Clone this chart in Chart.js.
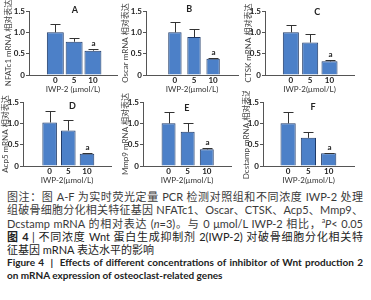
<!DOCTYPE html>
<html>
<head>
<meta charset="utf-8">
<script src="https://cdn.jsdelivr.net/npm/chart.js@4.4.1/dist/chart.umd.min.js"></script>
<style>
  body { margin: 0; background: #fff; width: 371px; height: 300px; overflow: hidden; position: relative;
         font-family: Lato, "Noto Sans CJK SC", sans-serif; }
  canvas { position: absolute; }
  .cap { position: absolute; left: 7px; width: 356px; font-size: 11px; line-height: 13px; color: #3a3a3a; }
  .full { text-align: justify; text-align-last: justify; }
  .en { font-size: 10px; font-weight: bold; color: #222; }
</style>
</head>
<body>
<canvas id="pA" width="122" height="95"></canvas>
<canvas id="pB" width="125" height="95"></canvas>
<canvas id="pC" width="130" height="95"></canvas>
<canvas id="pD" width="122" height="95"></canvas>
<canvas id="pE" width="125" height="95"></canvas>
<canvas id="pF" width="130" height="95"></canvas>

<div class="cap full" style="top:190px">图注：图 A-F 为实时荧光定量 PCR 检测对照组和不同浓度 IWP-2 处理</div>
<div class="cap full" style="top:203px">组破骨细胞分化相关特征基因 NFATc1、Oscar、CTSK、Acp5、Mmp9、</div>
<div class="cap full" style="top:217px">Dcstamp mRNA 的相对表达 (<i>n</i>=3)。与 0 μmol/L IWP-2 相比，<sup style="font-size:7px;line-height:0">a</sup><i>P</i>&lt; 0.05</div>
<div class="cap full" style="top:230px;color:#222"><b>图 4</b> | 不同浓度 Wnt 蛋白生成抑制剂 2(IWP-2) 对破骨细胞分化相关特</div>
<div class="cap" style="top:243px;color:#222">征基因 mRNA 表达水平的影响</div>
<div class="cap full en" style="top:256px">Figure 4 &nbsp;| &nbsp;Effects of different concentrations of inhibitor of Wnt production 2</div>
<div class="cap en" style="top:269px">on mRNA expression of osteoclast-related genes</div>

<script>
// IWP-2 doses on the x axis
var doses = ['0', '5', '10'];
var significance = ['', '', 'a'];

// relative mRNA expression, mean and SD (n=3)
var nfatc1Mean = [1.00, 0.78, 0.57];
var nfatc1Sd   = [0.19, 0.09, 0.04];
var oscarMean  = [1.00, 0.89, 0.38];
var oscarSd    = [0.25, 0.18, 0.03];
var ctskMean   = [1.00, 0.76, 0.32];
var ctskSd     = [0.17, 0.20, 0.02];
var acp5Mean   = [1.02, 0.83, 0.29];
var acp5Sd     = [0.28, 0.25, 0.02];
var mmp9Mean   = [1.00, 0.80, 0.39];
var mmp9Sd     = [0.26, 0.20, 0.03];
var dcstampMean = [1.00, 0.66, 0.30];
var dcstampSd   = [0.26, 0.13, 0.01];

var fontFamily = 'Lato, "Noto Sans CJK SC", sans-serif';

// panel layout (pixels) - left/top of canvas, axis x, plot right, etc.
var panels = [
  { id: 'pA', letter: 'A', yTitle: 'NFATc1 mRNA 相对表达', xTitle: 'IWP-2 (μmol/L)', mean: nfatc1Mean, sd: nfatc1Sd,
    left: 0,   top: 0,  w: 122, axisX: 29,  titleX: 8,   plotRight: 117, xMin: -0.62, barPct: 0.90, letterX: 1.04, letterDy: -1 },
  { id: 'pB', letter: 'B', yTitle: 'Oscar mRNA 相对表达', xTitle: 'IWP-2(μmol/L)', mean: oscarMean, sd: oscarSd,
    left: 119, top: 0,  w: 125, axisX: 146, titleX: 125, plotRight: 238, xMin: -0.71, barPct: 0.70, letterX: 0.75, letterDy: -2 },
  { id: 'pC', letter: 'C', yTitle: 'CTSK mRNA 相对表达', xTitle: 'IWP-2(μmol/L)', mean: ctskMean, sd: ctskSd,
    left: 241, top: 0,  w: 130, axisX: 265, titleX: 248, plotRight: 354, xMin: -0.57, barPct: 0.83, letterX: 1.36, letterDy: 1 },
  { id: 'pD', letter: 'D', yTitle: 'Acp5 mRNA 相对表达', xTitle: 'IWP-2(μmol/L)', mean: acp5Mean, sd: acp5Sd,
    left: 0,   top: 91, w: 122, axisX: 23,  titleX: 5,   plotRight: 111, xMin: -0.64, barPct: 0.78, letterX: 1.22, letterDy: 4 },
  { id: 'pE', letter: 'E', yTitle: 'Mmp9 mRNA 相对表达', xTitle: 'IWP-2(μmol/L)', mean: mmp9Mean, sd: mmp9Sd,
    left: 119, top: 91, w: 125, axisX: 143, titleX: 125, plotRight: 231, xMin: -0.57, barPct: 0.73, letterX: 0.96, letterDy: 6 },
  { id: 'pF', letter: 'F', yTitle: 'Dcstamp mRNA 相对表达', xTitle: 'IWP-2(μmol/L)', mean: dcstampMean, sd: dcstampSd,
    left: 241, top: 91, w: 130, axisX: 263, titleX: 246, plotRight: 354, xMin: -0.49, barPct: 0.75, letterX: 1.23, letterDy: 5 }
];

// error bars, "a" marks and panel letter
var extras = {
  id: 'extras',
  afterDatasetsDraw(chart, args, opts) {
    var ctx = chart.ctx, x = chart.scales.x, y = chart.scales.y;
    var pts = chart.data.datasets[0].data;
    ctx.save();
    ctx.strokeStyle = '#333';
    ctx.lineWidth = 1;
    ctx.fillStyle = '#222';
    ctx.textAlign = 'center';
    ctx.textBaseline = 'middle';
    pts.forEach(function (p, i) {
      var px = Math.round(x.getPixelForValue(p.x)) + 0.5;
      var y0 = y.getPixelForValue(p.y);
      var y1 = Math.round(y.getPixelForValue(p.y + opts.sd[i])) + 0.5;
      ctx.beginPath();
      ctx.moveTo(px, y0);
      ctx.lineTo(px, y1);
      ctx.moveTo(px - 5, y1);
      ctx.lineTo(px + 5, y1);
      ctx.stroke();
      if (significance[i]) {
        ctx.font = 'bold 8px ' + fontFamily;
        ctx.fillText(significance[i], px, y1 - 6);
      }
    });
    ctx.font = 'bold 9px ' + fontFamily;
    ctx.fillText(opts.letter, x.getPixelForValue(opts.letterX), chart.chartArea.top + opts.letterDy);
    ctx.restore();
  }
};

panels.forEach(function (p) {
  var cv = document.getElementById(p.id);
  cv.style.left = p.left + 'px';
  cv.style.top = p.top + 'px';

  new Chart(cv.getContext('2d'), {
    type: 'bar',
    data: {
      datasets: [{
        data: p.mean.map(function (v, i) { return { x: i, y: v }; }),
        backgroundColor: '#4c80c8',
        borderColor: '#1f3a68',
        borderWidth: 1,
        categoryPercentage: 1,
        barPercentage: p.barPct
      }]
    },
    options: {
      responsive: false,
      animation: false,
      events: [],
      layout: { padding: { top: 11, right: p.left + p.w - p.plotRight, bottom: 0, left: 0 } },
      plugins: {
        legend: { display: false },
        tooltip: { enabled: false },
        extras: { sd: p.sd, letter: p.letter, letterX: p.letterX, letterDy: p.letterDy }
      },
      scales: {
        x: {
          type: 'linear',
          min: p.xMin,
          max: 2.5,
          afterBuildTicks: function (s) { s.ticks = doses.map(function (d, i) { return { value: i }; }); },
          afterFit: function (s) { s.height = 20; },
          grid: { display: false, drawTicks: false },
          border: { color: '#555', width: 1 },
          ticks: {
            padding: 1,
            color: '#222',
            font: { size: 8, weight: 'bold', family: fontFamily },
            callback: function (v) { return doses[v]; }
          },
          title: { display: true, text: p.xTitle, color: '#333', padding: { top: 0, bottom: 1 },
                   font: { size: 8, family: fontFamily } }
        },
        y: {
          min: 0,
          max: 1.5,
          afterFit: function (s) { s.width = p.axisX - p.left; },
          grid: { drawOnChartArea: false, drawTicks: true, tickLength: 3, color: '#555' },
          border: { color: '#555', width: 1 },
          ticks: {
            stepSize: 0.5,
            padding: 1,
            color: '#222',
            font: { size: 8, weight: 'bold', family: fontFamily },
            callback: function (v) { return v === 0 ? '0' : v.toFixed(1); }
          },
          title: { display: true, text: p.yTitle, color: '#444',
                   padding: { top: Math.max(0, p.titleX - p.left - 4.8), bottom: 0 },
                   font: { size: 8, family: fontFamily } }
        }
      }
    },
    plugins: [extras]
  });
});
</script>
</body>
</html>
